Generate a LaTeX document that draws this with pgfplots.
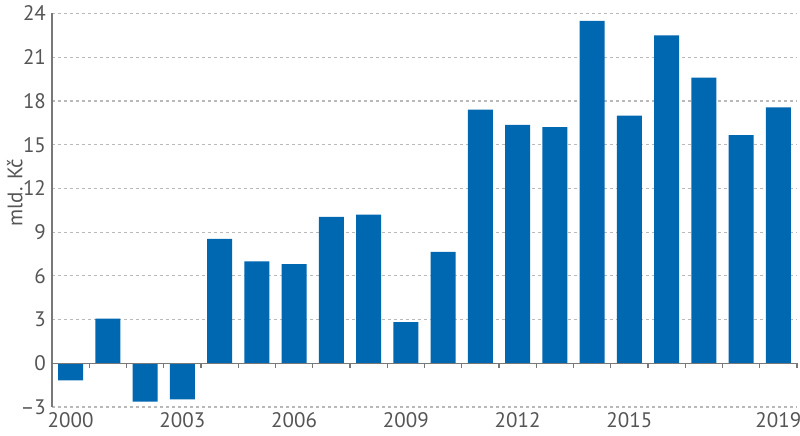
\documentclass[border=0pt]{standalone}
\usepackage{fontspec}
\setmainfont{PT Sans}
\usepackage{pgfplots}
\pgfplotsset{compat=1.18}
\definecolor{barblue}{RGB}{0,103,177}
\definecolor{txt}{RGB}{85,85,87}
\definecolor{gridc}{RGB}{185,185,185}
\definecolor{axc}{RGB}{120,120,120}
\begin{document}
\begin{tikzpicture}
\begin{axis}[
  scale only axis, width=372.5pt, height=196.75pt,
  xmin=-0.5, xmax=19.5, ymin=-3, ymax=24,
  axis lines*=left,
  x axis line style={draw=none},
  y axis line style={draw=axc, line width=0.7pt},
  xtick={0,3,6,9,12,15,19},
  xticklabels={2000,2003,2006,2009,2012,2015,2019},
  ytick={-3,0,3,6,9,12,15,18,21,24},
  yticklabels={--3,0,3,6,9,12,15,18,21,24},
  major tick length=0pt,
  tick style={draw=none},
  ymajorgrids,
  grid style={gridc, dash pattern=on 1.5pt off 1.5pt, line width=0.6pt},
  ticklabel style={font=\fontsize{10.5}{12}\selectfont, text=txt},
  yticklabel style={xshift=0.5pt},
  xticklabel style={yshift=1pt},
  ylabel={mld. Kč},
  ylabel style={font=\fontsize{10.5}{12}\selectfont, text=txt, at={(axis description cs:-0.05,0.545)}, anchor=center},
  clip=false,
]
\addplot[ybar, bar width=0.67, fill=barblue, draw=none] coordinates {
(0,-1.17) (1,3.06) (2,-2.63) (3,-2.47) (4,8.53) (5,7.0) (6,6.8) (7,10.04)
(8,10.2) (9,2.83) (10,7.64) (11,17.4) (12,16.35) (13,16.2) (14,23.5)
(15,17.0) (16,22.5) (17,19.6) (18,15.65) (19,17.55)
};
\draw[axc, line width=0.7pt] (axis cs:-0.5,0) -- (axis cs:19.5,0);
\pgfplotsinvokeforeach{0.5,1.5,...,19.5}{
  \draw[axc, line width=0.7pt] (axis cs:#1,0) -- ++(0pt,-2.5pt);
}
\coordinate (ll) at (rel axis cs:0,0);
\coordinate (ur) at (rel axis cs:1,1);
\end{axis}
\pgfresetboundingbox
\path[use as bounding box] ([xshift=-26pt,yshift=-14.5pt]ll) rectangle ([xshift=1.5pt,yshift=6.75pt]ur);
\end{tikzpicture}
\end{document}
